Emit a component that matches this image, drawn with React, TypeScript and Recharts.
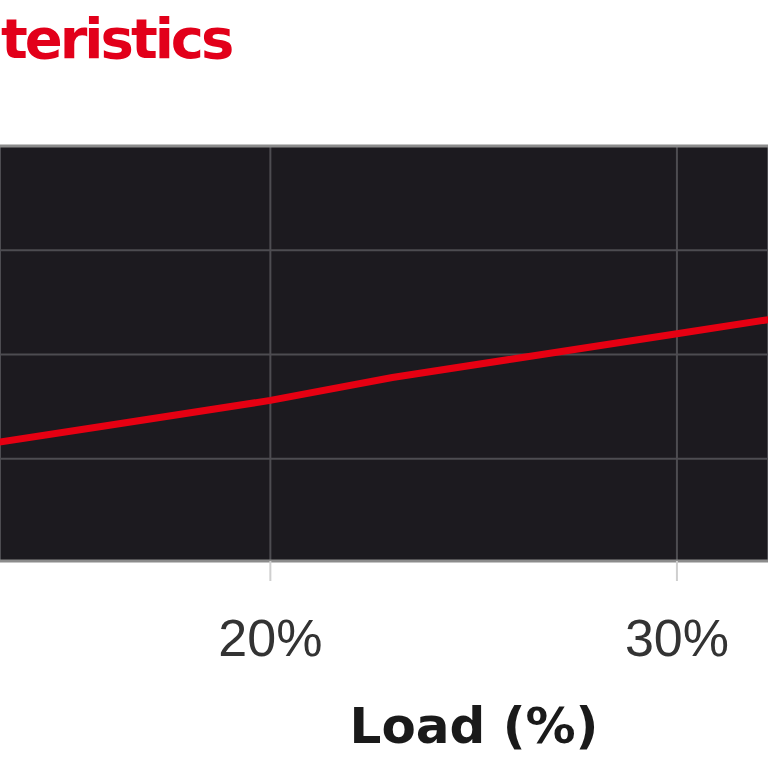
import { LineChart, Line, XAxis, YAxis, CartesianGrid, ReferenceLine } from 'recharts';

// load (%) along the x axis, only the cropped part of the chart is visible
const loads = [13, 16, 20, 23, 26, 30, 33];
// values (y axis is off-canvas, scale arbitrary)
const values = [80.7, 81.6, 82.8, 83.9, 84.8, 86.0, 86.9];
const xTicks = [20, 30];
const yTicks = [80, 85, 90];

const data = loads.map((load, i) => ({ load, value: values[i] }));

const Y_MIN = 75.1;
const Y_MAX = 95;

export default function App() {
  return (
    <div
      style={{
        position: 'fixed',
        left: 0,
        top: 0,
        width: 768,
        height: 768,
        overflow: 'hidden',
        background: '#ffffff',
      }}
    >
      <div
        style={{
          position: 'absolute',
          left: 1,
          top: 7,
          fontFamily: '"DejaVu Sans", Verdana, sans-serif',
          fontWeight: 700,
          fontSize: 56,
          lineHeight: '64px',
          letterSpacing: -3,
          color: '#e2001a',
          whiteSpace: 'nowrap',
        }}
      >
        teristics
      </div>

      <LineChart
        width={768}
        height={768}
        data={data}
        margin={{ top: 146, right: 0, left: 0, bottom: 0 }}
        style={{ position: 'absolute', left: 0, top: 0 }}
      >
        <CartesianGrid fill="#1c1a1f" stroke="#4d4c51" strokeWidth={2} />
        <XAxis
          type="number"
          dataKey="load"
          domain={[13.35, 32.24]}
          allowDataOverflow
          ticks={xTicks}
          tickFormatter={(v: number) => `${v}%`}
          height={207}
          axisLine={false}
          tickSize={20}
          tickMargin={38}
          tickLine={{ stroke: '#cfcfcf', strokeWidth: 2 }}
          tick={{ fontFamily: '"Liberation Sans", Arial, sans-serif', fontSize: 52, fill: '#333333' }}
          label={{
            value: 'Load (%)',
            position: 'insideBottom',
            offset: 25,
            dx: 90,
            style: { fontFamily: '"DejaVu Sans", Verdana, sans-serif', fontWeight: 700, fontSize: 50, fill: '#1a1a1a' },
          }}
        />
        <YAxis hide type="number" domain={[Y_MIN, Y_MAX]} ticks={yTicks} allowDataOverflow />
        <ReferenceLine y={Y_MAX} stroke="#8c8c8c" strokeWidth={3} />
        <ReferenceLine y={Y_MIN} stroke="#8c8c8c" strokeWidth={3} />
        <Line
          type="linear"
          dataKey="value"
          stroke="#e60012"
          strokeWidth={7}
          dot={false}
          activeDot={false}
          isAnimationActive={false}
        />
      </LineChart>
    </div>
  );
}
